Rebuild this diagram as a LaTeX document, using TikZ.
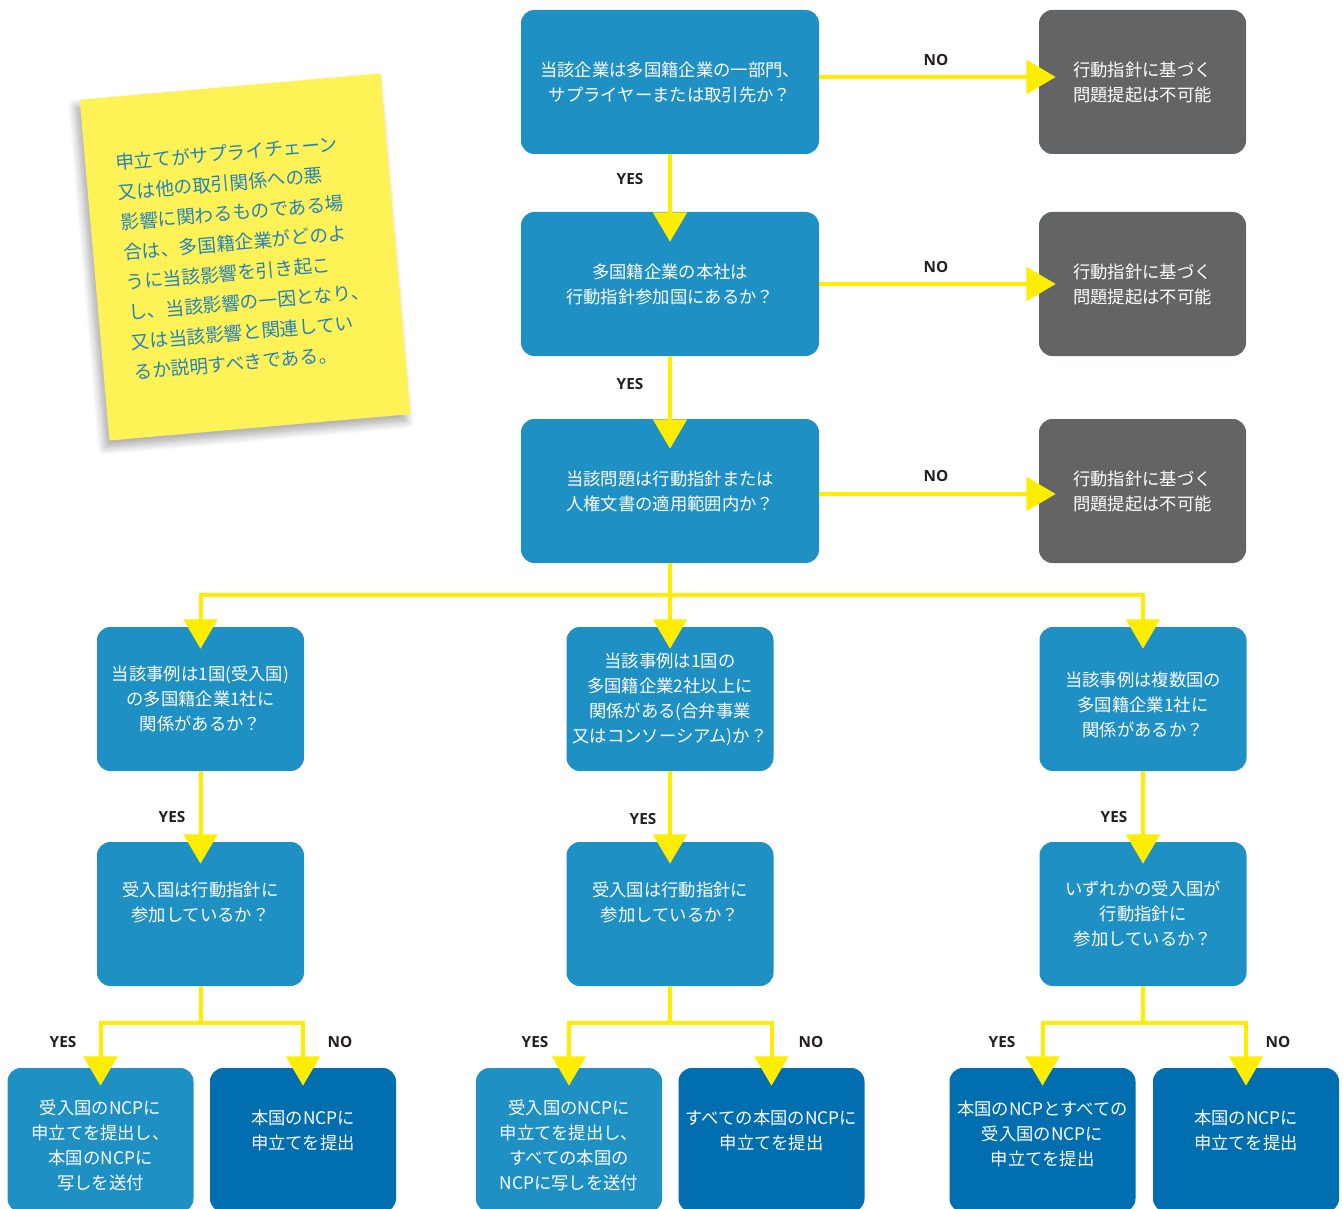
\documentclass[tikz,border=0pt]{standalone}
\usepackage{fontspec}
\setmainfont{Noto Sans CJK JP}
\newfontfamily\yesnofont{Open Sans}
\usetikzlibrary{arrows.meta,calc,shadows.blur}
\definecolor{qblue}{HTML}{1F90C4}
\definecolor{rblue}{HTML}{006EAF}
\definecolor{stopgrey}{HTML}{636466}
\definecolor{flowyellow}{HTML}{FFED00}
\definecolor{notefill}{HTML}{FFF256}
\definecolor{notetext}{HTML}{2383BD}
\definecolor{labelblack}{HTML}{231F20}
\begin{document}
\begin{tikzpicture}[x=0.75pt,y=-0.75pt,
  box/.style={rounded corners=10pt, text=white, align=center, inner sep=0pt,
    minimum height=108pt, font=\fontsize{13}{18.75}\selectfont},
  question/.style={box, fill=qblue, minimum width=223.5pt},
  stopbox/.style={box, fill=stopgrey, minimum width=155.25pt},
  casebox/.style={box, fill=qblue, minimum width=155.25pt},
  resultlight/.style={box, fill=qblue, minimum width=139.5pt},
  resultdark/.style={box, fill=rblue, minimum width=139.5pt},
  textup/.style={text depth=#1},
  textdown/.style={text height=#1},
  answer/.style={text=labelblack, inner sep=0pt, font=\yesnofont\bfseries\fontsize{11.5}{13}\selectfont},
  flow/.style={draw=flowyellow, line width=3pt, -{Triangle[length=22pt,width=25pt]}},
  note/.style={fill=notefill, text=notetext, align=left, minimum width=226.5pt, minimum height=256.5pt,
    font=\fontsize{14}{22.5}\selectfont,
    blur shadow={shadow xshift=-3pt, shadow yshift=-5pt, shadow blur radius=6pt,
      shadow blur steps=10, shadow opacity=35}}]
\useasboundingbox (0,0) rectangle (1343,1209);
\clip (0,0) rectangle (1343,1209);

% sticky note
\node[note, rotate=5] (memo) at (245,257) {申立てがサプライチェーン\\又は他の取引関係への悪\\影響に関わるものである場\\合は、多国籍企業がどのよ\\うに当該影響を引き起こ\\し、当該影響の一因となり、\\又は当該影響と関連してい\\るか説明すべきである。};

% main questions
\node[question] (q1) at (670,82) {当該企業は多国籍企業の一部門、\\サプライヤーまたは取引先か？};
\node[question] (q2) at (670,284) {多国籍企業の本社は\\行動指針参加国にあるか？};
\node[question] (q3) at (670,491) {当該問題は行動指針または\\人権文書の適用範囲内か？};

\node[stopbox] (n1) at (1142.5,82) {行動指針に基づく\\問題提起は不可能};
\node[stopbox] (n2) at (1142.5,284) {行動指針に基づく\\問題提起は不可能};
\node[stopbox] (n3) at (1142.5,491) {行動指針に基づく\\問題提起は不可能};

% three cases
\node[casebox] (c1) at (200.5,699) {当該事例は1国(受入国)\\の多国籍企業1社に\\関係があるか？};
\node[casebox] (c2) at (670,699) {当該事例は1国の\\多国籍企業2社以上に\\関係がある(合弁事業\\又はコンソーシアム)か？};
\node[casebox, textdown=58pt] (c3) at (1143,699) {当該事例は複数国の\\多国籍企業1社に\\関係があるか？};

\node[casebox, textup=19pt] (h1) at (200.5,914) {受入国は行動指針に\\参加しているか？};
\node[casebox, textup=19pt] (h2) at (670,914) {受入国は行動指針に\\参加しているか？};
\node[casebox] (h3) at (1143,914) {いずれかの受入国が\\行動指針に\\参加しているか？};

% results
\node[resultlight, textdown=75pt] (r1a) at (100.5,1140) {受入国のNCPに\\申立てを提出し、\\本国のNCPに\\写しを送付};
\node[resultdark, textup=16pt] (r1b) at (303,1140) {本国のNCPに\\申立てを提出};
\node[resultlight, textdown=75pt] (r2a) at (569,1140) {受入国のNCPに\\申立てを提出し、\\すべての本国の\\NCPに写しを送付};
\node[resultdark, textup=16pt] (r2b) at (771.5,1140) {すべての本国のNCPに\\申立てを提出};
\node[resultdark, textup=10pt] (r3a) at (1042.5,1140) {本国のNCPとすべての\\受入国のNCPに\\申立てを提出};
\node[resultdark, textup=16pt] (r3b) at (1246,1140) {本国のNCPに\\申立てを提出};

% connectors
\draw[flow] ($(q1.east)+(0,-5)$) -- ($(q1.east -| n1.west)+(17,-5)$);
\draw[flow] (q2.east) -- ($(q2.east -| n2.west)+(17,0)$);
\draw[flow] ($(q3.east)+(0,3)$) -- ($(q3.east -| n3.west)+(17,3)$);
\draw[flow] (q1.south) -- ($(q2.north)+(0,30)$);
\draw[flow] (q2.south) -- ($(q3.north)+(0,30)$);

\draw[flow] (q3.south) -- ++(0,32) -| ($(c1.north)+(0,22)$);
\draw[flow] (q3.south) -- ++(0,32) -| ($(c3.north)+(0,22)$);
\draw[flow] (q3.south) -- ($(c2.north)+(0,22)$);

\draw[flow] (c1.south) -- ($(h1.north)+(0,22)$);
\draw[flow] (c2.south) -- ($(h2.north)+(0,22)$);
\draw[flow] (c3.south) -- ($(h3.north)+(0,22)$);

\draw[flow] (h1.south) -- ++(0,37) -| ($(r1a.north)+(0,18)$);
\draw[flow] (h1.south) -- ++(0,37) -| ($(r1b.north)+(0,18)$);
\draw[flow] (h2.south) -- ++(0,37) -| ($(r2a.north)+(0,18)$);
\draw[flow] (h2.south) -- ++(0,37) -| ($(r2b.north)+(0,18)$);
\draw[flow] (h3.south) -- ++(0,37) -| ($(r3a.north)+(0,18)$);
\draw[flow] (h3.south) -- ++(0,37) -| ($(r3b.north)+(0,18)$);

% answers
\node[answer] (no1) at (936,60) {NO};
\node[answer] (no2) at (936,267) {NO};
\node[answer] (no3) at (936,476) {NO};
\node[answer] (yes1) at (630,179) {YES};
\node[answer] (yes2) at (630,384) {YES};
\node[answer] (yes3) at (172,817) {YES};
\node[answer] (yes4) at (643,819) {YES};
\node[answer] (yes5) at (1114,817) {YES};
\node[answer] (yes6) at (63,1042) {YES};
\node[answer] (no4) at (340,1042) {NO};
\node[answer] (yes7) at (535,1042) {YES};
\node[answer] (no5) at (811,1042) {NO};
\node[answer] (yes8) at (1002,1042) {YES};
\node[answer] (no6) at (1278,1042) {NO};
\end{tikzpicture}
\end{document}
